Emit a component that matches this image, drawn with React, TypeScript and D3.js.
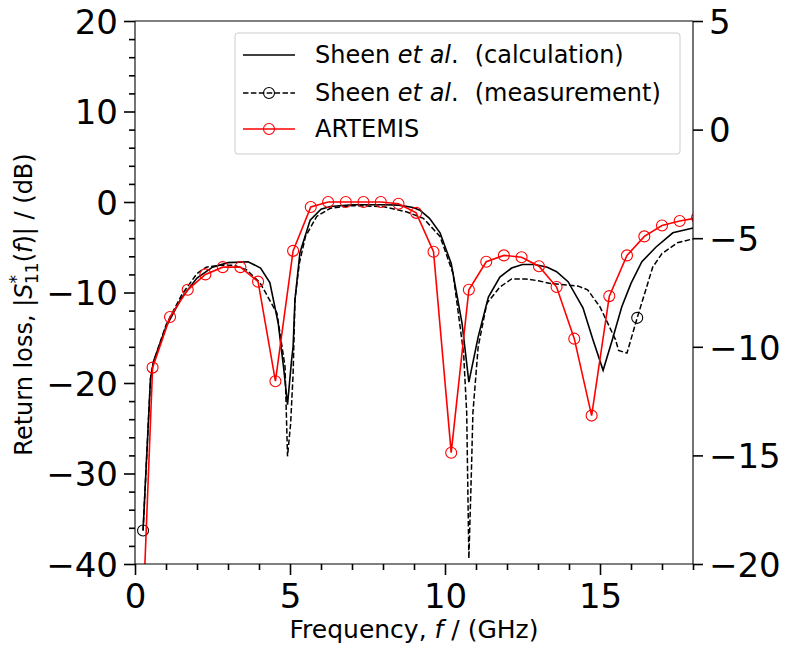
import * as d3 from 'd3';
import React, { useEffect, useRef } from 'react';

// Sheen et al. (calculation)
const calcF = [0.26, 0.5, 0.6, 1.0, 1.5, 2.0, 2.5, 3.0, 3.65, 4.05, 4.35, 4.62, 4.8, 4.92, 5.05, 5.1, 5.16, 5.32, 5.65, 6.0, 6.3, 7.0, 8.0, 8.5, 8.97, 9.19, 9.5, 9.84, 10.2, 10.55, 10.77, 11.07, 11.4, 11.77, 12.15, 12.5, 12.9, 13.3, 13.6, 13.97, 14.45, 14.77, 15.1, 15.4, 15.7, 16.0, 16.35, 16.8, 17.35, 17.97, 18.2];
const calcDb = [-36.3, -19.5, -17.6, -13.8, -10.6, -8.4, -7.2, -6.7, -6.6, -7.3, -8.9, -13.4, -18.5, -22.4, -17.5, -16.0, -10.8, -5.6, -2.0, -0.8, -0.5, -0.3, -0.3, -0.35, -0.6, -0.9, -1.8, -3.4, -6.8, -13.4, -19.9, -14.9, -10.5, -8.3, -7.3, -6.9, -6.9, -7.2, -7.7, -8.8, -11.7, -15.2, -18.6, -15.2, -11.6, -9.0, -6.6, -5.0, -3.4, -2.9, -2.7];

// Sheen et al. (measurement)
const measF = [0.26, 0.5, 0.6, 1.0, 1.5, 2.0, 2.3, 2.7, 3.2, 3.6, 4.03, 4.58, 4.84, 4.92, 5.02, 5.1, 5.16, 5.3, 5.5, 5.86, 6.3, 7.0, 8.0, 8.77, 9.3, 9.84, 10.26, 10.6, 10.7, 10.77, 10.85, 10.9, 11.07, 11.35, 11.77, 12.15, 12.6, 13.0, 13.4, 14.0, 14.3, 14.6, 15.0, 15.5, 15.6, 15.87, 16.2, 16.7, 17.0, 17.5, 17.97, 18.2];
const measDb = [-36.3, -19.5, -17.6, -13.6, -10.3, -7.9, -7.2, -7.0, -7.0, -7.5, -8.9, -12.3, -18.2, -28.1, -24.5, -19.0, -10.8, -6.8, -3.8, -1.6, -0.7, -0.4, -0.5, -1.1, -1.8, -3.8, -7.9, -16.7, -23.3, -39.4, -30.0, -23.3, -16.0, -11.2, -9.4, -8.5, -8.5, -8.7, -9.0, -9.2, -9.3, -9.7, -11.6, -15.2, -16.4, -16.7, -12.8, -7.2, -5.7, -4.5, -4.1, -4.0];
const measMarkF = [0.26, 16.2];

// ARTEMIS
const artF = [0, 0.567, 1.13, 1.7, 2.27, 2.83, 3.4, 3.97, 4.53, 5.1, 5.67, 6.23, 6.8, 7.37, 7.93, 8.5, 9.07, 9.63, 10.2, 10.77, 11.33, 11.9, 12.47, 13.03, 13.6, 14.17, 14.73, 15.3, 15.87, 16.43, 17.0, 17.57, 18.13];
const artDb = [-68, -18.3, -12.7, -9.7, -8.0, -7.2, -7.2, -8.8, -19.8, -5.4, -0.55, 0, 0, 0, 0, -0.2, -1.2, -5.5, -27.7, -9.7, -6.6, -5.9, -6.1, -7.1, -9.4, -15.1, -23.6, -10.4, -5.9, -3.8, -2.6, -2.1, -1.75];

const xTicks = [0, 5, 10, 15];
const yLeftTicks = [20, 10, 0, -10, -20, -30, -40];
const yRightTicks = [5, 0, -5, -10, -15, -20];

const W = 787, H = 653;
const M = { left: 135, right: 693, top: 21, bottom: 564 };
const FONT = 'DejaVu Sans, sans-serif';
const minus = (v: number) => (v < 0 ? '\u2212' + Math.abs(v) : String(v));

export default function App() {
  const ref = useRef<SVGSVGElement>(null);

  useEffect(() => {
    const svg = d3.select(ref.current);
    svg.selectAll('*').remove();

    const x = d3.scaleLinear().domain([0, 18]).range([M.left, M.right]);
    const y = d3.scaleLinear().domain([-40, 20]).range([M.bottom, M.top]);
    const y2 = d3.scaleLinear().domain([-20, 5]).range([M.bottom, M.top]);

    svg.append('defs').append('clipPath').attr('id', 'plot-clip')
      .append('rect')
      .attr('x', M.left).attr('y', M.top)
      .attr('width', M.right - M.left).attr('height', M.bottom - M.top);

    const plot = svg.append('g').attr('clip-path', 'url(#plot-clip)');
    const line = d3.line<[number, number]>().x(d => x(d[0])).y(d => y(d[1]));

    // calculation
    plot.append('path')
      .attr('d', line(calcF.map((f, i) => [f, calcDb[i]])))
      .attr('fill', 'none').attr('stroke', 'black').attr('stroke-width', 1.6);

    // measurement
    plot.append('path')
      .attr('d', line(measF.map((f, i) => [f, measDb[i]])))
      .attr('fill', 'none').attr('stroke', 'black').attr('stroke-width', 1.5)
      .attr('stroke-dasharray', '5.5,2.4');
    plot.selectAll('.meas-mark')
      .data(measMarkF)
      .join('circle')
      .attr('class', 'meas-mark')
      .attr('cx', d => x(d))
      .attr('cy', d => y(measDb[measF.indexOf(d)]))
      .attr('r', 5.5)
      .attr('fill', 'none').attr('stroke', 'black').attr('stroke-width', 1.1);

    // ARTEMIS
    plot.append('path')
      .attr('d', line(artF.map((f, i) => [f, artDb[i]])))
      .attr('fill', 'none').attr('stroke', 'red').attr('stroke-width', 1.6);
    plot.selectAll('.art-mark')
      .data(artF)
      .join('circle')
      .attr('class', 'art-mark')
      .attr('cx', d => x(d))
      .attr('cy', (d, i) => y(artDb[i]))
      .attr('r', 5.5)
      .attr('fill', 'none').attr('stroke', 'red').attr('stroke-width', 1.1);

    // frame
    const frame = svg.append('g').attr('stroke', 'black').attr('stroke-width', 1.1);
    frame.append('line').attr('x1', M.left).attr('x2', M.right).attr('y1', M.top).attr('y2', M.top);
    frame.append('line').attr('x1', M.left).attr('x2', M.right).attr('y1', M.bottom).attr('y2', M.bottom);
    frame.append('line').attr('x1', M.left).attr('x2', M.left).attr('y1', M.top).attr('y2', M.bottom);
    frame.append('line').attr('x1', M.right).attr('x2', M.right).attr('y1', M.top).attr('y2', M.bottom);

    // bottom axis
    const xAxis = svg.append('g').attr('transform', `translate(0,${M.bottom})`)
      .call(d3.axisBottom(x).tickValues(xTicks).tickSize(11).tickPadding(6).tickFormat(d => minus(+d)));
    svg.append('g').attr('transform', `translate(0,${M.bottom})`)
      .call(d3.axisBottom(x).tickValues(d3.range(0, 19).filter(v => v % 5 !== 0)).tickSize(6).tickFormat(() => ''));

    // left axis
    const yAxis = svg.append('g').attr('transform', `translate(${M.left},0)`)
      .call(d3.axisLeft(y).tickValues(yLeftTicks).tickSize(11).tickPadding(6).tickFormat(d => minus(+d)));
    svg.append('g').attr('transform', `translate(${M.left},0)`)
      .call(d3.axisLeft(y).tickValues(d3.range(-40, 21, 2).filter(v => v % 10 !== 0)).tickSize(6).tickFormat(() => ''));

    // right axis
    const y2Axis = svg.append('g').attr('transform', `translate(${M.right},0)`)
      .call(d3.axisRight(y2).tickValues(yRightTicks).tickSize(10).tickPadding(6).tickFormat(d => minus(+d)));

    svg.selectAll('.domain').remove();
    svg.selectAll('.tick line').attr('stroke', 'black').attr('stroke-width', 1.6);
    [xAxis, yAxis, y2Axis].forEach(a => a.selectAll('text')
      .attr('font-family', FONT).attr('font-size', 34).attr('fill', 'black'));
    xAxis.selectAll('text').attr('dy', '0.78em');
    yAxis.selectAll('text').attr('dy', '0.36em');
    y2Axis.selectAll('text').attr('dy', '0.36em');

    // axis labels
    const xl = svg.append('text')
      .attr('x', (M.left + M.right) / 2).attr('y', 638)
      .attr('text-anchor', 'middle')
      .attr('font-family', FONT).attr('font-size', 25);
    xl.append('tspan').text('Frequency, ');
    xl.append('tspan').attr('font-style', 'italic').text('f');
    xl.append('tspan').text(' / (GHz)');

    const yl = svg.append('text')
      .attr('transform', `translate(32,${(M.top + M.bottom) / 2 + 12}) rotate(-90)`)
      .attr('text-anchor', 'middle')
      .attr('font-family', FONT).attr('font-size', 24);
    yl.append('tspan').text('Return loss, |');
    yl.append('tspan').attr('font-style', 'italic').text('S');
    yl.append('tspan').attr('font-size', 17).attr('dy', -10).text('*');
    yl.append('tspan').attr('font-size', 17).attr('dx', -9).attr('dy', 16).text('11');
    yl.append('tspan').attr('dy', -6).text('(');
    yl.append('tspan').attr('font-style', 'italic').text('f');
    yl.append('tspan').text(')| / (dB)');

    // legend
    const lg = svg.append('g');
    lg.append('rect')
      .attr('x', 235).attr('y', 33).attr('width', 445).attr('height', 121)
      .attr('rx', 3).attr('fill', 'white').attr('fill-opacity', 0.8)
      .attr('stroke', '#cccccc').attr('stroke-width', 1);
    const rows = [
      { label: 'calculation', color: 'black', dash: null, mark: false, y: 55 },
      { label: 'measurement', color: 'black', dash: '5.5,2.4', mark: true, y: 93 },
      { label: 'ARTEMIS', color: 'red', dash: null, mark: true, y: 129 },
    ];
    rows.forEach(r => {
      lg.append('line')
        .attr('x1', 243).attr('x2', 295).attr('y1', r.y).attr('y2', r.y)
        .attr('stroke', r.color).attr('stroke-width', 1.5)
        .attr('stroke-dasharray', r.dash);
      if (r.mark) {
        lg.append('circle').attr('cx', 269).attr('cy', r.y).attr('r', 5.5)
          .attr('fill', 'none').attr('stroke', r.color).attr('stroke-width', 1.1);
      }
      const t = lg.append('text')
        .attr('x', 315).attr('y', r.y + 8)
        .attr('font-family', FONT).attr('font-size', 24);
      if (r.label === 'ARTEMIS') {
        t.text('ARTEMIS');
      } else {
        t.append('tspan').text('Sheen ');
        t.append('tspan').attr('font-style', 'italic').text('et al');
        t.append('tspan').text('.');
        t.append('tspan').attr('dx', 16).text('(' + r.label + ')');
      }
    });
  }, []);

  return (
    <svg ref={ref} width={W} height={H}
      style={{ position: 'absolute', left: 0, top: 0, background: 'white' }} />
  );
}
